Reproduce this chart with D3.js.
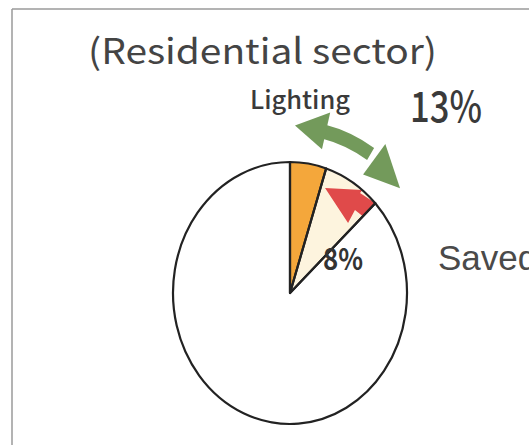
<!DOCTYPE html>
<html>
<head>
<meta charset="utf-8">
<script src="https://cdn.jsdelivr.net/npm/d3@7"></script>
<style>
  html, body { margin: 0; padding: 0; background: #fff; }
  svg { display: block; }
</style>
</head>
<body>
<svg id="chart" width="529" height="445"></svg>
<script>
// Residential-sector energy use: share of lighting, split into what remains and what was saved
const categories = ["Lighting (remaining)", "Lighting (saved)", "Other uses"];
const shares = [5, 8, 87];
const fills = ["#f4a73b", "#fdf4de", "#ffffff"];

const title = "(Residential sector)";
const lightingLabel = "Lighting";
const savedLabel = "Saved";

const svg = d3.select("#chart");
const W = 529, H = 445;

svg.append("rect").attr("width", W).attr("height", H).attr("fill", "#fff");

// frame lines along the top and left edges
svg.append("line").attr("x1", 12).attr("y1", 9).attr("x2", W).attr("y2", 9)
  .attr("stroke", "#9a9a9a").attr("stroke-width", 1.5);
svg.append("line").attr("x1", 12).attr("y1", 9).attr("x2", 12).attr("y2", H)
  .attr("stroke", "#9a9a9a").attr("stroke-width", 1.5);

// the pie is slightly squashed horizontally
const cx = 290, cy = 293, R = 131, rx = 117;
const g = svg.append("g").attr("transform", `translate(${cx},${cy}) scale(${rx / R},1)`);

const deg = Math.PI / 180;
const pie = d3.pie().sort(null).value(d => d)(shares);
const arc = d3.arc().innerRadius(0).outerRadius(R);

g.selectAll("path.slice").data(pie).join("path")
  .attr("class", "slice")
  .attr("d", arc)
  .attr("fill", (d, i) => fills[i]);

// red arrow inside the saved wedge, pointing back toward the remaining lighting share
const radial = d3.lineRadial()
  .angle(d => d[0] * deg)
  .radius(d => d[1] * R)
  .curve(d3.curveLinearClosed);

g.append("clipPath").attr("id", "savedClip")
  .append("path").attr("d", arc(pie[1]));

const redArrow = [
  [20.5, 0.855], [38.2, 1.0], [38.1, 0.97], [49.2, 1.016],
  [51.6, 0.873], [41.2, 0.843], [42.9, 0.729]
];
g.append("path")
  .attr("d", radial(redArrow))
  .attr("fill", "#e04a4a")
  .attr("clip-path", "url(#savedClip)");

// slice outlines on top
g.selectAll("path.outline").data(pie).join("path")
  .attr("class", "outline")
  .attr("d", arc)
  .attr("fill", "none")
  .attr("stroke", "#222")
  .attr("stroke-width", 2.2)
  .attr("stroke-linejoin", "round")
  .attr("vector-effect", "non-scaling-stroke");

// green curved double-headed arrow spanning the lighting share
const green = "#739a5b";
const lightingEnd = (pie[1].endAngle) / deg;
g.append("path")
  .attr("d", d3.arc()({ innerRadius: 1.21 * R, outerRadius: 1.32 * R, startAngle: 13 * deg, endAngle: 33 * deg }))
  .attr("fill", green);
g.append("path")
  .attr("d", radial([[1.9, 1.28], [14, 1.42], [14, 1.13]]))
  .attr("fill", green);
g.append("path")
  .attr("d", radial([[lightingEnd + 2.8, 1.235], [34.6, 1.10], [35.6, 1.40]]))
  .attr("fill", green);

// texts
const labelFont = "'Noto Sans CJK JP', 'Noto Sans', sans-serif";
svg.append("text")
  .attr("x", 88).attr("y", 64)
  .attr("textLength", 349).attr("lengthAdjust", "spacingAndGlyphs")
  .attr("font-family", labelFont)
  .attr("font-size", 35).attr("font-weight", 400)
  .attr("fill", "#444")
  .text(title);

svg.append("text")
  .attr("x", 250).attr("y", 109)
  .attr("textLength", 100).attr("lengthAdjust", "spacingAndGlyphs")
  .attr("font-family", labelFont)
  .attr("font-size", 25).attr("font-weight", 500)
  .attr("fill", "#3a3a3a")
  .text(lightingLabel);

const lightingTotal = shares[0] + shares[1];
svg.append("text")
  .attr("x", 410).attr("y", 122)
  .attr("textLength", 72).attr("lengthAdjust", "spacingAndGlyphs")
  .attr("font-family", labelFont)
  .attr("font-size", 42).attr("font-weight", 500)
  .attr("fill", "#3a3a3a")
  .text(lightingTotal + "%");

svg.append("text")
  .attr("x", 323).attr("y", 270)
  .attr("textLength", 40).attr("lengthAdjust", "spacingAndGlyphs")
  .attr("font-family", labelFont)
  .attr("font-size", 30).attr("font-weight", 700)
  .attr("fill", "#333")
  .text(shares[1] + "%");

svg.append("text")
  .attr("x", 438).attr("y", 270)
  .attr("font-family", "'Liberation Sans', Arial, sans-serif")
  .attr("font-size", 35)
  .attr("fill", "#4a4a4a")
  .text(savedLabel);
</script>
</body>
</html>
